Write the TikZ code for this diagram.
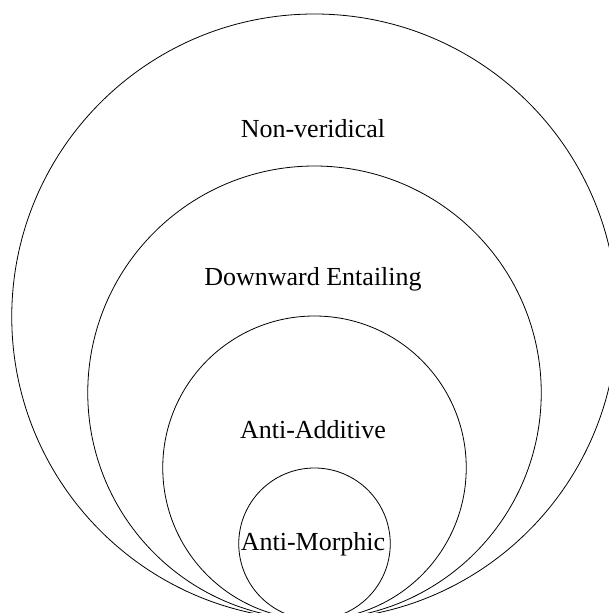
\documentclass[tikz,border=0pt]{standalone}
\usepackage{fontspec}
\setmainfont{Liberation Serif}
\begin{document}
\begin{tikzpicture}[x=1pt,y=-1pt,
  ring/.style={draw=black,line width=0.8pt,circle,inner sep=0pt},
  lbl/.style={anchor=base,font=\fontsize{26}{30}\selectfont,inner sep=0pt}]
\useasboundingbox (0,0) rectangle (609,613);
\begin{scope}
\clip (0,0) rectangle (609,613);
\coordinate (t) at (314.5,619.5);
\draw[line width=0.8pt] (314.5,316.75) circle[radius=302.75pt];
\draw[line width=0.8pt] (314.5,392.75) circle[radius=226.75pt];
\draw[line width=0.8pt] (314.5,467.75) circle[radius=151.75pt];
\draw[line width=0.8pt] (314.5,543.75) circle[radius=75.75pt];
\end{scope}
\node[lbl] (nv) at (313,137) {Non-veridical};
\node[lbl] (de) at (313,285.7) {Downward Entailing};
\node[lbl] (aa) at (313,438.3) {Anti-Additive};
\node[lbl] (am) at (313,550) {Anti-Morphic};
\end{tikzpicture}
\end{document}
